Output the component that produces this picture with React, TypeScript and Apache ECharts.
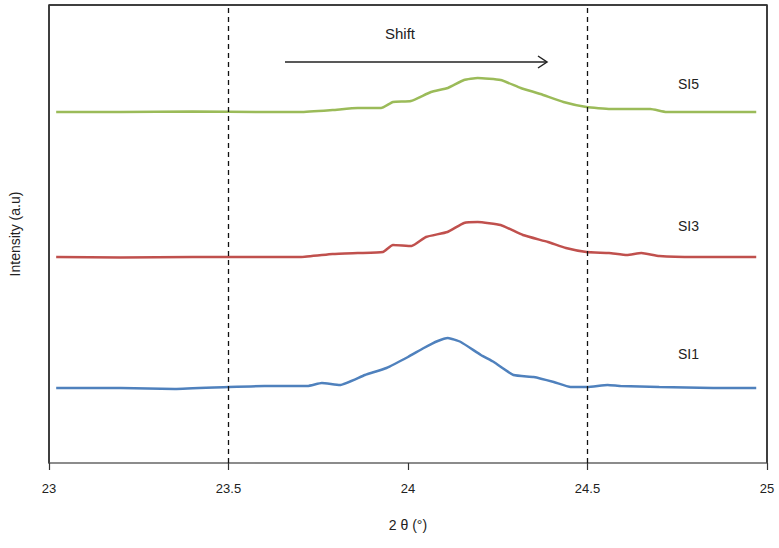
import React, { useEffect, useRef } from "react";
import * as echarts from "echarts";

// 2θ positions (degrees) and intensities (arbitrary units, offset stacks)
const si5X = [23.02, 23.2, 23.4, 23.6, 23.7, 23.79, 23.86, 23.925, 23.958, 24.008, 24.064, 24.111, 24.156, 24.194, 24.258, 24.314, 24.369, 24.433, 24.497, 24.564, 24.628, 24.675, 24.72, 24.8, 24.97];
const si5Y = [351, 351, 351.5, 351, 351, 353, 355, 355, 361, 362, 371, 375, 383, 385, 383, 375, 369, 361, 356, 354, 354, 354, 351, 351, 351];

const si3X = [23.02, 23.2, 23.4, 23.6, 23.7, 23.79, 23.86, 23.93, 23.958, 24.01, 24.05, 24.11, 24.156, 24.194, 24.258, 24.32, 24.39, 24.44, 24.497, 24.56, 24.61, 24.65, 24.7, 24.8, 24.97];
const si3Y = [206, 205.5, 206, 206, 206, 209, 210, 211, 218, 217, 226, 231, 240, 241, 238, 228, 221, 215, 211, 210, 208, 210, 207, 206, 206];

const si1X = [23.02, 23.2, 23.35, 23.5, 23.6, 23.647, 23.72, 23.76, 23.81, 23.88, 23.94, 24.0, 24.044, 24.083, 24.111, 24.147, 24.203, 24.239, 24.294, 24.35, 24.406, 24.453, 24.5, 24.556, 24.592, 24.7, 24.85, 24.97];
const si1Y = [75, 75, 74, 76, 77, 77, 77, 80, 78, 88, 95, 106, 115, 122, 125, 121, 108, 101, 88, 86, 81, 76, 76, 78, 77, 76, 75, 75];

const seriesNames = ["SI5", "SI3", "SI1"];
const seriesColors = ["#9BBB59", "#C0504D", "#4F81BD"];
const refLines = [23.5, 24.5];
const X_MIN = 23;
const X_MAX = 25;
const Y_MAX = 458;

const FONT = "'Liberation Sans', Arial, sans-serif";

export default function App() {
  const ref = useRef<HTMLDivElement>(null);

  useEffect(() => {
    if (!ref.current) return;
    const chart = echarts.init(ref.current, undefined, { renderer: "svg" });
    const pairs = (xs: number[], ys: number[]) => xs.map((x, i) => [x, ys[i]]);
    const allData = [pairs(si5X, si5Y), pairs(si3X, si3Y), pairs(si1X, si1Y)];

    chart.setOption({
      animation: false,
      grid: { left: 47, right: 12, top: 5, bottom: 85, show: true, borderColor: "#333", borderWidth: 1.5 },
      xAxis: {
        type: "value",
        min: X_MIN,
        max: X_MAX,
        interval: 0.5,
        name: "2 θ (°)",
        nameLocation: "middle",
        nameGap: 55,
        nameTextStyle: { fontFamily: FONT, fontSize: 14, color: "#222" },
        axisLine: { show: true, onZero: false, lineStyle: { color: "#999", width: 1.5 } },
        axisTick: { show: true, length: 7, lineStyle: { color: "#333", width: 1.2 } },
        axisLabel: { margin: 19, fontFamily: FONT, fontSize: 13, color: "#222" },
        splitLine: { show: false },
        z: 4,
      },
      yAxis: {
        type: "value",
        min: 0,
        max: Y_MAX,
        name: "Intensity (a.u)",
        nameLocation: "middle",
        nameGap: 27,
        nameTextStyle: { fontFamily: FONT, fontSize: 14, color: "#222" },
        axisLine: { show: false },
        axisTick: { show: false },
        axisLabel: { show: false },
        splitLine: { show: false },
      },
      series: seriesNames.map((name, i) => ({
        name,
        type: "line",
        data: allData[i],
        showSymbol: false,
        smooth: 0.15,
        clip: false,
        lineStyle: { color: seriesColors[i], width: 2.5 },
        z: 3,
        markLine:
          i === 0
            ? {
                silent: true,
                symbol: ["none", "none"],
                label: { show: false },
                lineStyle: { color: "#111", type: [5, 4], width: 1.3 },
                data: refLines.map((v) => ({ xAxis: v })),
              }
            : i === 1
            ? {
                silent: true,
                symbol: ["none", "none"],
                label: { show: false },
                lineStyle: { color: "#333", type: "solid", width: 1.5 },
                data: [{ xAxis: X_MIN }, { xAxis: X_MAX }, { yAxis: Y_MAX }],
              }
            : undefined,
      })),
      graphic: [
        {
          type: "text",
          left: 385,
          top: 26,
          style: { text: "Shift", font: `15px ${FONT}`, fill: "#222" },
        },
        {
          type: "line",
          shape: { x1: 285, y1: 62, x2: 547, y2: 62 },
          style: { stroke: "#222", lineWidth: 1.5 },
        },
        {
          type: "polyline",
          shape: { points: [[538, 56], [547, 62], [538, 68]] },
          style: { stroke: "#222", lineWidth: 1.5, fill: "none" },
        },
        {
          type: "text",
          left: 678,
          top: 77,
          style: { text: "SI5", font: `14px ${FONT}`, fill: "#222" },
        },
        {
          type: "text",
          left: 678,
          top: 219,
          style: { text: "SI3", font: `14px ${FONT}`, fill: "#222" },
        },
        {
          type: "text",
          left: 678,
          top: 347,
          style: { text: "SI1", font: `14px ${FONT}`, fill: "#222" },
        },
      ],
    });

    return () => chart.dispose();
  }, []);

  return (
    <div
      ref={ref}
      style={{ position: "absolute", left: 0, top: 0, width: 779, height: 548 }}
    />
  );
}
